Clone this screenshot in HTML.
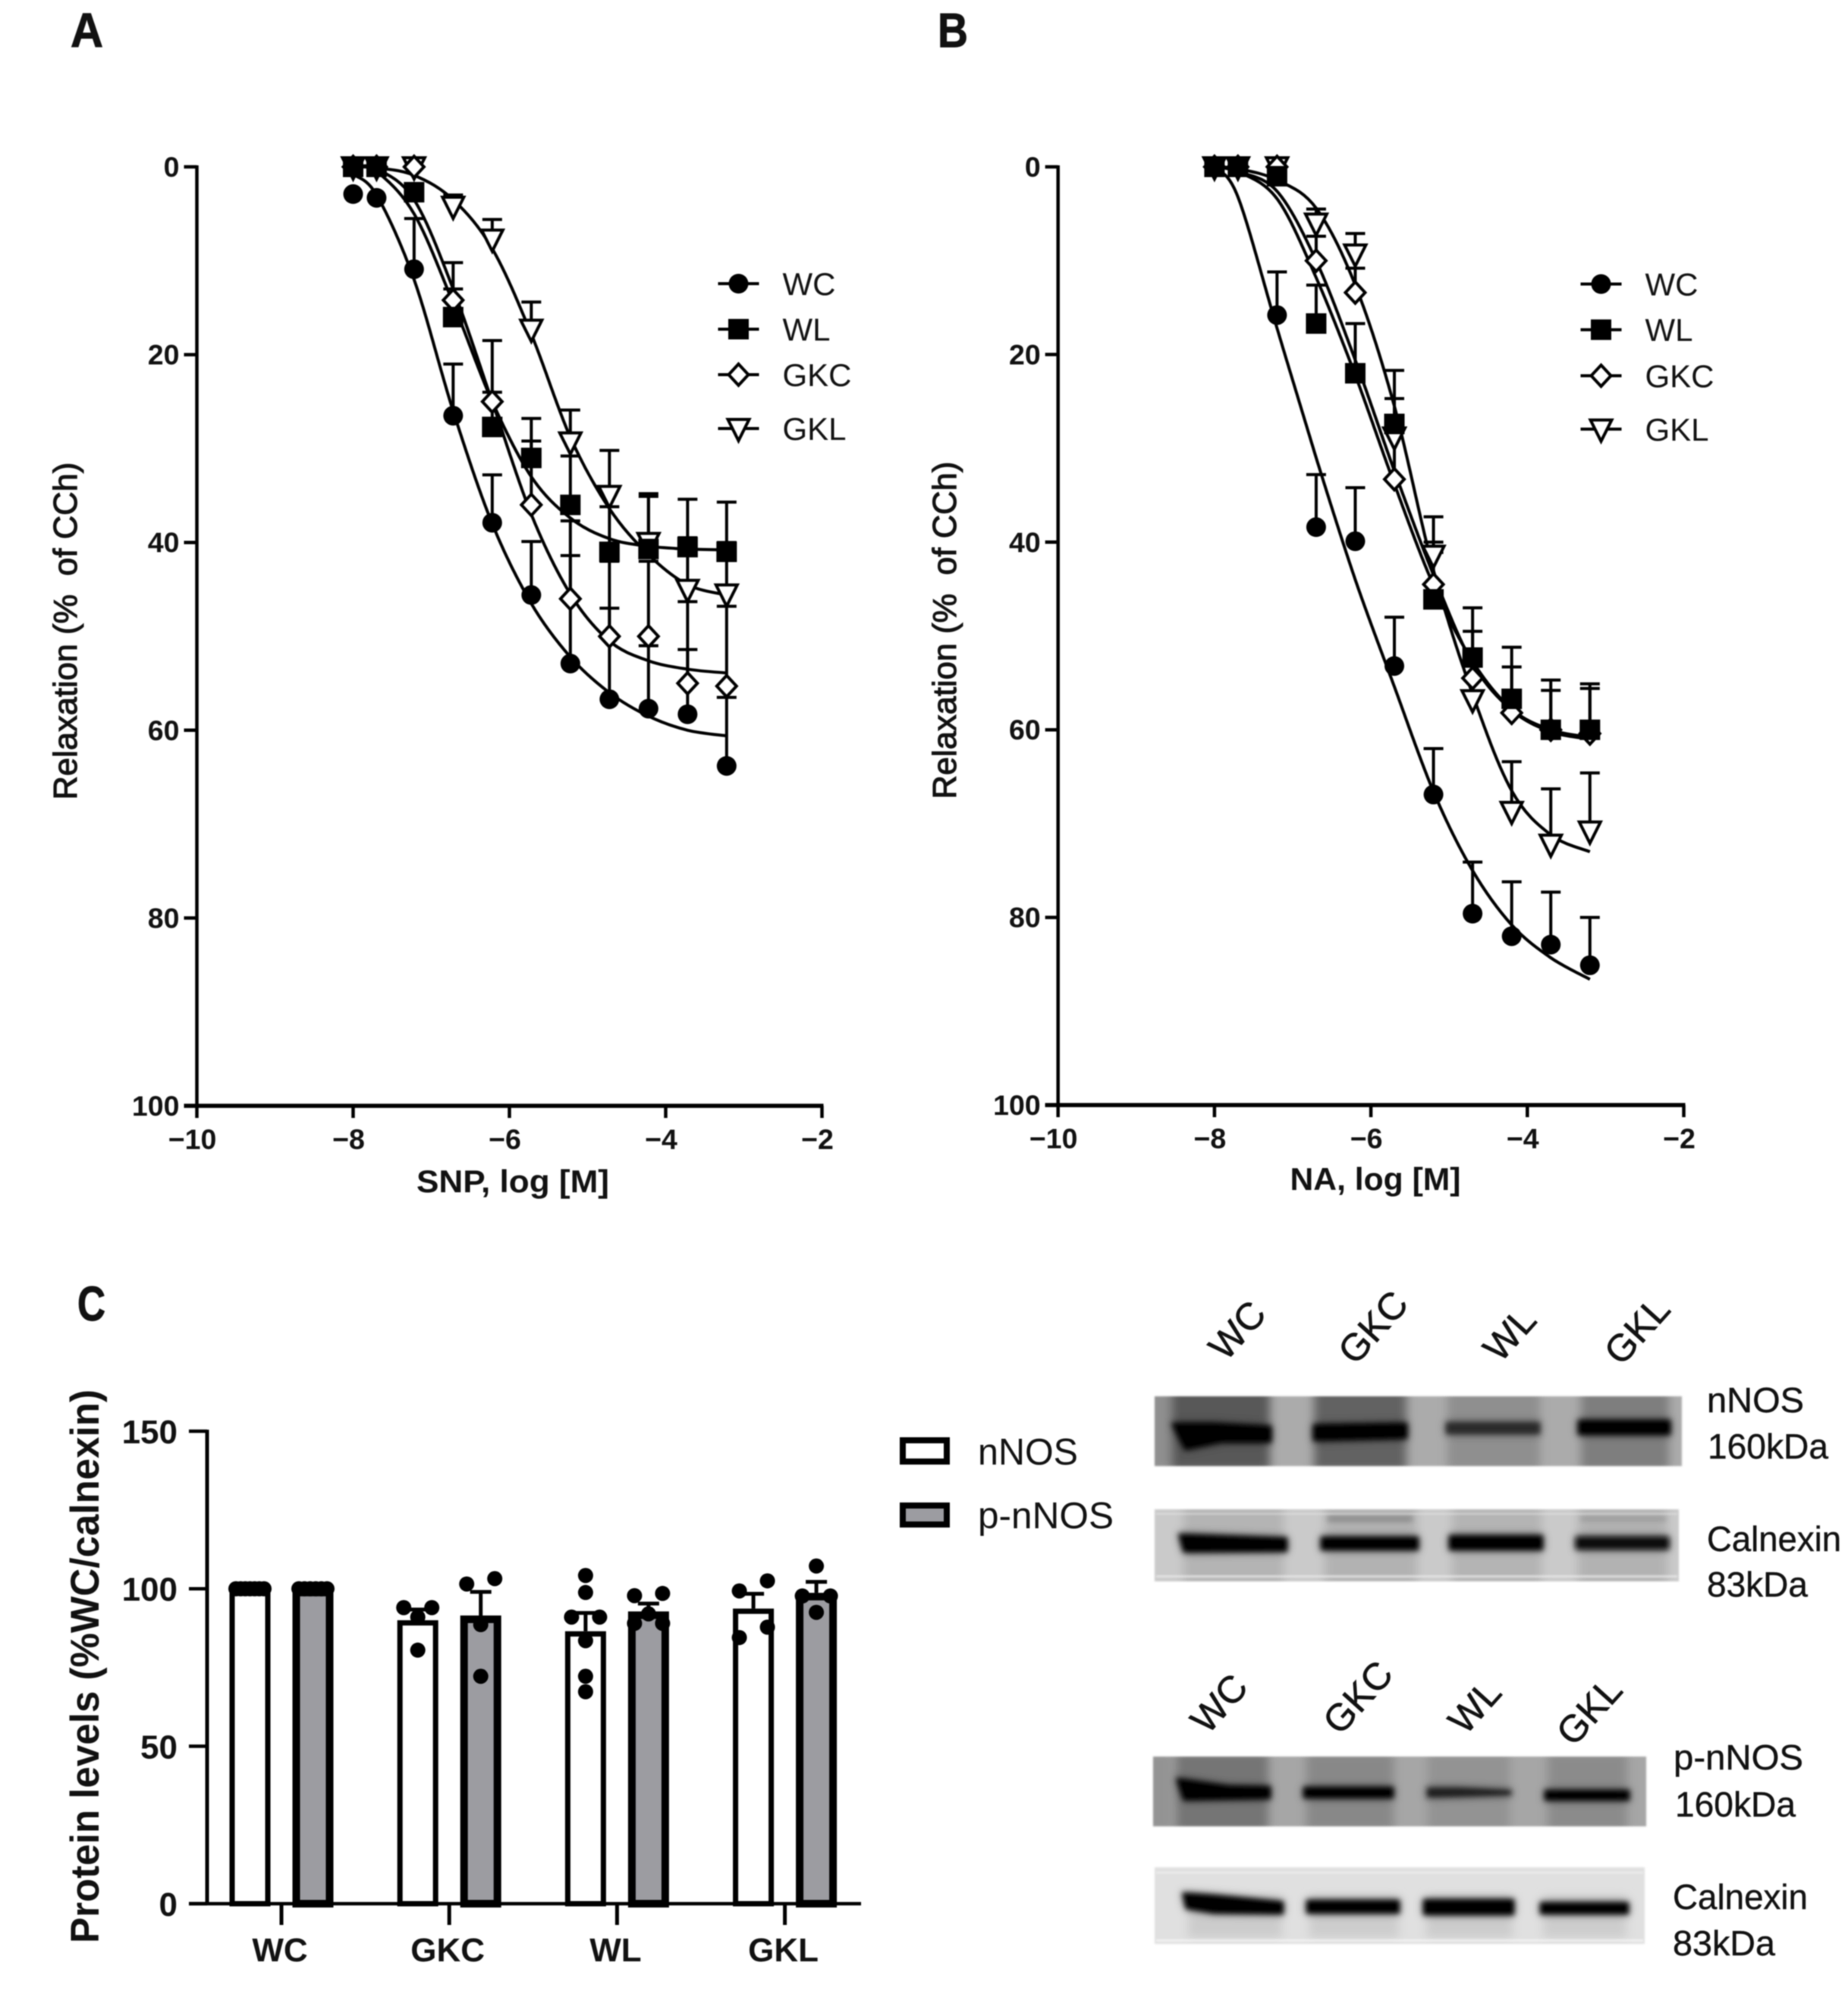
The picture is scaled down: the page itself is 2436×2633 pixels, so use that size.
<!DOCTYPE html>
<html lang="en">
<head>
<meta charset="utf-8">
<title>Relaxation curves and protein levels</title>
<style>
html,body{margin:0;padding:0;background:#fff;width:2436px;height:2633px;overflow:hidden}
svg{display:block;filter:blur(0.7px)}
text{font-family:"Liberation Sans",sans-serif;fill:#111}
.tick{font-weight:700;font-size:37.5px}
.axt{font-weight:700;font-size:42px}
.ylab{font-size:44px;stroke:#111;stroke-width:1.1px}
.leg{font-size:42px;fill:#111}
.pan{font-weight:700;font-size:64px;stroke:#111;stroke-width:1px}
.blt{font-size:46px;fill:#111;stroke:#111;stroke-width:.4px}
.blr{font-size:50px;fill:#111;stroke:#111;stroke-width:.6px}
</style>
</head>
<body>
<svg id="figure" xmlns="http://www.w3.org/2000/svg" width="2436" height="2633" viewBox="0 0 2436 2633">
<defs>
<filter id="b1" filterUnits="userSpaceOnUse" x="1400" y="1700" width="1000" height="900"><feGaussianBlur stdDeviation="1"/></filter>
<filter id="b3" filterUnits="userSpaceOnUse" x="1400" y="1700" width="1000" height="900"><feGaussianBlur stdDeviation="3.5"/></filter>
<filter id="b6" filterUnits="userSpaceOnUse" x="1400" y="1700" width="1000" height="900"><feGaussianBlur stdDeviation="6"/></filter>
<clipPath id="c1"><rect x="1522" y="1841" width="695" height="92"/></clipPath>
<clipPath id="c2"><rect x="1522" y="1990" width="691" height="95"/></clipPath>
<clipPath id="c3"><rect x="1520" y="2316" width="650" height="92"/></clipPath>
<clipPath id="c4"><rect x="1522" y="2462" width="646" height="101"/></clipPath>
<g id="bands1">
<polygon points="1544,1876 1600,1876 1676,1880 1676,1902 1610,1902 1562,1912" fill="#000"/>
<polygon points="1731,1878 1855,1876 1855,1897 1731,1900" fill="#000"/>
<rect x="1906" y="1875" width="124" height="16" fill="#2a2a2a"/>
<rect x="2080" y="1872" width="122" height="20" fill="#000"/>
</g>
<g id="bands2">
<polygon points="1553,2022 1697,2027 1697,2046 1560,2047" fill="#000"/>
<rect x="1741" y="2026" width="129" height="18" fill="#050505"/>
<rect x="1910" y="2024" width="124" height="20" fill="#000"/>
<rect x="2077" y="2026" width="123" height="17" fill="#0a0a0a"/>
</g>
<g id="bands3">
<polygon points="1550,2344 1620,2354 1675,2355 1675,2372 1560,2374" fill="#000"/>
<rect x="1718" y="2356" width="119" height="15" fill="#050505"/>
<polygon points="1881,2357 1925,2357 1992,2360 1992,2367 1925,2369 1881,2370" fill="#1a1a1a"/>
<rect x="2036" y="2360" width="112" height="14" fill="#050505"/>
</g>
<g id="bands4">
<polygon points="1558,2495 1600,2498 1692,2507 1692,2524 1600,2523 1563,2517" fill="#000"/>
<rect x="1722" y="2505" width="123" height="18" fill="#000"/>
<rect x="1876" y="2504" width="120" height="21" fill="#000"/>
<rect x="2030" y="2508" width="117" height="16" fill="#000"/>
</g>
</defs>

<text class="pan" x="93" y="62" textLength="43" lengthAdjust="spacingAndGlyphs">A</text>
<text class="pan" x="1236" y="62" textLength="40" lengthAdjust="spacingAndGlyphs">B</text>
<text class="pan" x="102" y="1741" textLength="37" lengthAdjust="spacingAndGlyphs">C</text>

<text class="ylab" x="101" y="832" text-anchor="middle" textLength="445" lengthAdjust="spacingAndGlyphs" transform="rotate(-90 101 832)">Relaxation (%&#160; of CCh)</text>
<text class="ylab" x="1260" y="831" text-anchor="middle" textLength="445" lengthAdjust="spacingAndGlyphs" transform="rotate(-90 1260 831)">Relaxation (%&#160; of CCh)</text>
<text class="axt" x="676" y="1572" text-anchor="middle" textLength="254" lengthAdjust="spacingAndGlyphs">SNP, log [M]</text>
<text class="axt" x="1813" y="1569" text-anchor="middle" textLength="225" lengthAdjust="spacingAndGlyphs">NA, log [M]</text>

<text x="130" y="2197" text-anchor="middle" font-size="53" font-weight="700" textLength="730" lengthAdjust="spacingAndGlyphs" transform="rotate(-90 130 2197)">Protein levels (%WC/calnexin)</text>

<g>
<rect x="1190" y="1899" width="58" height="28" fill="#fff" stroke="#000" stroke-width="8"/>
<text x="1289" y="1931" font-size="49" textLength="132" lengthAdjust="spacingAndGlyphs">nNOS</text>
<rect x="1190" y="1985" width="58" height="25" fill="#9c9ca1" stroke="#000" stroke-width="8"/>
<text x="1289" y="2015" font-size="49" textLength="179" lengthAdjust="spacingAndGlyphs">p-nNOS</text>
</g>

<!-- Western blots -->
<g filter="url(#b1)"><g clip-path="url(#c1)">
<rect x="1522" y="1841" width="695" height="92" fill="#ababab"/>
<g filter="url(#b6)">
<rect x="1500" y="1830" width="45" height="110" fill="#8f8f8f"/>
<rect x="1544" y="1830" width="130" height="110" fill="#585858"/>
<rect x="1732" y="1830" width="122" height="110" fill="#626262"/>
<rect x="1908" y="1830" width="122" height="110" fill="#8f8f8f"/>
<rect x="2084" y="1830" width="116" height="110" fill="#7e7e7e"/>
</g>
<g filter="url(#b6)" opacity=".55"><use href="#bands1"/></g>
<g filter="url(#b3)"><use href="#bands1"/></g>
</g></g>

<g filter="url(#b1)"><g clip-path="url(#c2)">
<rect x="1522" y="1990" width="691" height="95" fill="#cacaca"/>
<g filter="url(#b6)">
<rect x="1560" y="1985" width="132" height="105" fill="#b4b4b4"/>
<rect x="1746" y="1985" width="122" height="105" fill="#b2b2b2"/>
<rect x="1914" y="1985" width="118" height="105" fill="#b4b4b4"/>
<rect x="2080" y="1985" width="118" height="105" fill="#b2b2b2"/>
</g>
<g filter="url(#b3)">
<rect x="1750" y="1998" width="112" height="9" fill="#8e8e8e"/>
<rect x="2084" y="1999" width="112" height="7" fill="#9c9c9c"/>
</g>
<g filter="url(#b6)" opacity=".55"><use href="#bands2"/></g>
<g filter="url(#b3)"><use href="#bands2"/></g>
<rect x="1524" y="1995" width="687" height="2" fill="#e8e8e8" opacity=".6"/>
<rect x="1524" y="2077" width="687" height="3" fill="#ededed" opacity=".7"/>
</g></g>

<g filter="url(#b1)"><g clip-path="url(#c3)">
<rect x="1520" y="2316" width="650" height="92" fill="#a6a6a6"/>
<g filter="url(#b6)">
<rect x="1500" y="2310" width="45" height="105" fill="#939393"/>
<rect x="1550" y="2310" width="122" height="105" fill="#757575"/>
<rect x="1722" y="2310" width="115" height="105" fill="#888888"/>
<rect x="1882" y="2310" width="108" height="105" fill="#939393"/>
<rect x="2040" y="2310" width="105" height="105" fill="#8b8b8b"/>
</g>
<g filter="url(#b6)" opacity=".5"><use href="#bands3"/></g>
<g filter="url(#b3)"><use href="#bands3"/></g>
</g></g>

<g filter="url(#b1)"><g clip-path="url(#c4)">
<rect x="1522" y="2462" width="646" height="101" fill="#e0e0e0"/>
<g filter="url(#b6)">
<rect x="1566" y="2500" width="124" height="55" fill="#cccccc"/>
<rect x="1726" y="2500" width="118" height="55" fill="#cdcdcd"/>
<rect x="1880" y="2500" width="114" height="55" fill="#cccccc"/>
<rect x="2034" y="2500" width="110" height="55" fill="#cdcdcd"/>
</g>
<g filter="url(#b6)" opacity=".5"><use href="#bands4"/></g>
<g filter="url(#b3)"><use href="#bands4"/></g>
<rect x="1524" y="2468" width="642" height="2" fill="#f4f4f4" opacity=".7"/>
<rect x="1524" y="2557" width="642" height="3" fill="#f8f8f8" opacity=".7"/>
</g></g>

<g>
<text class="blr" x="1631" y="1771" text-anchor="middle" transform="rotate(-48 1631 1754)">WC</text>
<text class="blr" x="1810" y="1767" text-anchor="middle" transform="rotate(-48 1810 1750)">GKC</text>
<text class="blr" x="1990" y="1776" text-anchor="middle" transform="rotate(-48 1990 1759)">WL</text>
<text class="blr" x="2158" y="1771" text-anchor="middle" transform="rotate(-48 2158 1754)">GKL</text>
</g>
<g>
<text class="blr" x="1607" y="2263" text-anchor="middle" transform="rotate(-48 1607 2246)">WC</text>
<text class="blr" x="1790" y="2255" text-anchor="middle" transform="rotate(-48 1790 2238)">GKC</text>
<text class="blr" x="1944" y="2267" text-anchor="middle" transform="rotate(-48 1944 2250)">WL</text>
<text class="blr" x="2095" y="2273" text-anchor="middle" transform="rotate(-48 2095 2256)">GKL</text>
</g>

<text class="blt" x="2250" y="1862" textLength="128" lengthAdjust="spacingAndGlyphs">nNOS</text>
<text class="blt" x="2251" y="1923" textLength="159" lengthAdjust="spacingAndGlyphs">160kDa</text>
<text class="blt" x="2250" y="2045" textLength="177" lengthAdjust="spacingAndGlyphs">Calnexin</text>
<text class="blt" x="2250" y="2105" textLength="133" lengthAdjust="spacingAndGlyphs">83kDa</text>
<text class="blt" x="2206" y="2333" textLength="171" lengthAdjust="spacingAndGlyphs">p-nNOS</text>
<text class="blt" x="2208" y="2395" textLength="159" lengthAdjust="spacingAndGlyphs">160kDa</text>
<text class="blt" x="2205" y="2517" textLength="178" lengthAdjust="spacingAndGlyphs">Calnexin</text>
<text class="blt" x="2205" y="2578" textLength="135" lengthAdjust="spacingAndGlyphs">83kDa</text>

<g id="panel-a"></g>
<g id="panel-b"></g>
<g id="panel-c"></g>
</svg>

<script>
// ---- Shared axis ticks ----
const curveXTicks = [-10, -8, -6, -4, -2];
const curveYTicks = [0, 20, 40, 60, 80, 100];
const seriesNames = ['WC', 'WL', 'GKC', 'GKL'];

// ---- Panel A (SNP) ----
const dosesA = [-8, -7.7, -7.22, -6.72, -6.22, -5.72, -5.22, -4.72, -4.22, -3.72, -3.22];
const wcA = [2.9, 3.3, 10.9, 26.5, 37.9, 45.6, 52.9, 56.7, 57.7, 58.3, 63.8];
const wlA = [0, 0, 2.7, 16, 27.7, 31, 36, 41, 40.7, 40.5, 41];
const gkcA = [0, 0, 0, 14.2, 25, 36, 46, 50, 50, 55, 55.3];
const gklA = [0, 0, 0, 4.2, 7.7, 17.3, 29.3, 35, 40, 45, 45.5];
const wcErrA = [0, 0, 5.4, 5.5, 5.1, 5.7, 11.5, 9.7, 6.7, 6.9, 7.3];
const wlErrA = [0, 0, 0, 3, 3.7, 4.2, 5.2, 4.8, 5.6, 5.1, 5.3];
const gkcErrA = [0, 0, 0, 4, 6.5, 6.8, 8.3, 8, 8, 8.7, 8.5];
const gklErrA = [0, 0, 0, 1.2, 2.1, 2.9, 3.4, 4.8, 5.2, 5.5, 5.5];
const wcFitA = [0.8, 3, 12, 26, 38, 46.5, 52.2, 56, 58.5, 60, 60.6];
const wlFitA = [0, 0.5, 5, 14.5, 25, 33, 37.4, 39.6, 40.4, 40.7, 40.8];
const gkcFitA = [0, 0.2, 3.5, 13, 25, 37, 45.5, 50.5, 52.6, 53.5, 53.9];
const gklFitA = [0, 0.1, 0.9, 3.5, 8.7, 17.8, 28.8, 36.4, 41.3, 44.5, 45.6];

// ---- Panel B (NA) ----
const dosesB = [-8, -7.7, -7.2, -6.7, -6.2, -5.7, -5.2, -4.7, -4.2, -3.7, -3.2];
const wcB = [0, 0, 15.8, 38.4, 39.9, 53.2, 66.9, 79.6, 82, 82.9, 85.1];
const wlB = [0, 0, 1, 16.7, 22, 27.4, 46.1, 52.3, 56.7, 60, 60];
const gkcB = [0, 0, 0, 10, 13.4, 33.3, 44.5, 54.5, 58.2, 60, 60.4];
const gklB = [0, 0, 0, 6, 9.3, 28.8, 41.4, 56.8, 68.7, 72.2, 70.8];
const wcErrB = [0, 0, 4.6, 5.6, 5.7, 5.2, 4.9, 5.5, 5.8, 5.6, 5.1];
const wlErrB = [0, 0, 0, 4.1, 5.3, 5.7, 5, 5.3, 5.5, 5.3, 4.9];
const gkcErrB = [0, 0, 0, 2.6, 2.6, 6.8, 4.5, 5, 4.9, 4.2, 4.8];
const gklErrB = [0, 0, 0, 1.5, 2.2, 4.1, 4.1, 3.8, 5.3, 5.9, 6.2];
const wcFitB = [0, 3.2, 17.2, 31, 44, 55.4, 66.6, 75, 80.8, 84.3, 86.6];
const wlFitB = [0, 0.5, 3.4, 11.8, 22.2, 33.8, 44.6, 52.7, 57.8, 60, 60.8];
const gkcFitB = [0, 0.5, 2.6, 10, 20.6, 32.4, 43.5, 52.9, 57.9, 60.2, 61];
const gklFitB = [0, 0.2, 1.4, 4.4, 12.6, 25.5, 43, 56.2, 66.5, 71.2, 73];

// ---- Panel C (protein levels) ----
const proteinGroups = ['WC', 'GKC', 'WL', 'GKL'];
const proteinTicks = [0, 50, 100, 150];
const nnosMeans = [100, 90, 86.5, 93.7];
const nnosErrors = [0, 3.4, 5.8, 4.7];
const nnosPoints = [
  [100, 100, 100, 100, 100, 100, 100],
  [94, 94, 91, 80.5],
  [104.2, 98.8, 91, 91, 83.5, 72.2, 67.3],
  [102.5, 99.3, 87.8, 84.5]
];
const pnnosMeans = [100, 91.5, 92.8, 98.7];
const pnnosErrors = [0, 7.5, 2.5, 3.5];
const pnnosPoints = [
  [100, 100, 100, 100, 100, 100],
  [103.2, 101.5, 88.6, 72.2],
  [98.5, 97.8, 92, 89, 89],
  [107.2, 97.7, 97.7, 92.5]
];

const NS = 'http://www.w3.org/2000/svg';
function make(parent, tag, attrs, txt) {
  const el = document.createElementNS(NS, tag);
  for (const k in attrs) el.setAttribute(k, attrs[k]);
  if (txt !== undefined) el.textContent = txt;
  parent.appendChild(el);
  return el;
}
function tickText(v) {
  return v < 0 ? '\u2212' + Math.abs(v) : String(v);
}
function smoothPath(pts) {
  let d = 'M' + pts[0][0].toFixed(1) + ' ' + pts[0][1].toFixed(1);
  for (let i = 0; i < pts.length - 1; i++) {
    const p0 = pts[Math.max(0, i - 1)], p1 = pts[i], p2 = pts[i + 1], p3 = pts[Math.min(pts.length - 1, i + 2)];
    const c1x = p1[0] + (p2[0] - p0[0]) / 6, c1y = p1[1] + (p2[1] - p0[1]) / 6;
    const c2x = p2[0] - (p3[0] - p1[0]) / 6, c2y = p2[1] - (p3[1] - p1[1]) / 6;
    d += 'C' + c1x.toFixed(1) + ' ' + c1y.toFixed(1) + ' ' + c2x.toFixed(1) + ' ' + c2y.toFixed(1) + ' ' + p2[0].toFixed(1) + ' ' + p2[1].toFixed(1);
  }
  return d;
}
function drawMarker(parent, kind, cx, cy) {
  if (kind === 'WC') {
    return make(parent, 'circle', {cx: cx, cy: cy, r: 13, fill: '#000'});
  }
  if (kind === 'WL') {
    return make(parent, 'rect', {x: cx - 13.5, y: cy - 13.5, width: 27, height: 27, fill: '#000'});
  }
  if (kind === 'GKC') {
    const pts = [[cx, cy - 14], [cx + 13, cy], [cx, cy + 14], [cx - 13, cy]].map(p => p.join(',')).join(' ');
    return make(parent, 'polygon', {points: pts, fill: '#fff', stroke: '#000', 'stroke-width': 4});
  }
  const tri = [[cx - 14, cy - 12], [cx + 14, cy - 12], [cx, cy + 16]].map(p => p.join(',')).join(' ');
  return make(parent, 'polygon', {points: tri, fill: '#fff', stroke: '#000', 'stroke-width': 4});
}

function drawCurvePanel(root, o) {
  const xs = v => o.x0 + (v + 10) * o.xu;
  const ys = v => o.y0 + v * o.yu;
  const axisGroup = make(root, 'g', {stroke: '#000', 'stroke-width': 4.5, fill: 'none'});
  
  
  const yAxis = make(axisGroup, 'line', {x1: xs(-10), x2: xs(-10), y1: ys(0) - 2, y2: ys(100) + 2});
  
  
  const xAxis = make(axisGroup, 'line', {x1: xs(-10) - 17, x2: xs(-2) + 2, y1: ys(100), y2: ys(100), 'stroke-width': 5.5});
  
  
  curveYTicks.forEach(function (t) {
    const tk = make(axisGroup, 'line', {x1: xs(-10) - 17, x2: xs(-10), y1: ys(t), y2: ys(t)});
    
    
    const lb = make(root, 'text', {x: xs(-10) - 23, y: ys(t) + 13, 'text-anchor': 'end', class: 'tick'}, tickText(t));
    
    
  });
  curveXTicks.forEach(function (t) {
    const tk = make(axisGroup, 'line', {x1: xs(t), x2: xs(t), y1: ys(100), y2: ys(100) + 16});
    
    
    const lb = make(root, 'text', {x: xs(t) - 6, y: ys(100) + 57, 'text-anchor': 'middle', class: 'tick'}, tickText(t));
    
    
  });
  // error bars
  o.series.forEach(function (s) {
    s.values.forEach(function (v, i) {
      if (!s.errors[i]) return;
      const top = v - s.errors[i];
      const eb = make(root, 'path', {d: 'M' + xs(o.doses[i]) + ' ' + ys(v) + 'V' + ys(top) + 'M' + (xs(o.doses[i]) - 13) + ' ' + ys(top) + 'H' + (xs(o.doses[i]) + 13), stroke: '#000', 'stroke-width': 4, fill: 'none'});
      
      
    });
  });
  // fit lines
  o.series.forEach(function (s) {
    const pts = s.fit.map((v, i) => [xs(o.doses[i]), ys(v)]);
    const fit = make(root, 'path', {d: smoothPath(pts), stroke: '#000', 'stroke-width': 4, fill: 'none'});
    
    
  });
  // markers
  o.series.forEach(function (s) {
    s.values.forEach(function (v, i) {
      const m = drawMarker(root, s.name, xs(o.doses[i]), ys(v));
      
      
    });
  });
  // legend
  const lg = make(root, 'g', {});
  
  
  seriesNames.forEach(function (n, i) {
    const ly = o.legendY[i];
    const ln = make(lg, 'line', {x1: o.legendX - 27, x2: o.legendX + 27, y1: ly, y2: ly, stroke: '#000', 'stroke-width': 4});
    
    
    const mk = drawMarker(lg, n, o.legendX, ly);
    
    
    const tx = make(lg, 'text', {x: o.legendX + 58, y: ly + 15, class: 'leg'}, n);
    
    
  });
}

drawCurvePanel(document.getElementById('panel-a'), {
  id: 'panel-a', x0: 259.5, xu: 103, y0: 220, yu: 12.38, doses: dosesA,
  legendX: 973.5, legendY: [374, 434, 494, 565],
  series: [
    {name: 'GKL', values: gklA, errors: gklErrA, fit: gklFitA},
    {name: 'GKC', values: gkcA, errors: gkcErrA, fit: gkcFitA},
    {name: 'WL', values: wlA, errors: wlErrA, fit: wlFitA},
    {name: 'WC', values: wcA, errors: wcErrA, fit: wcFitA}
  ]
});
drawCurvePanel(document.getElementById('panel-b'), {
  id: 'panel-b', x0: 1394.7, xu: 103.1, y0: 220, yu: 12.37, doses: dosesB,
  legendX: 2110.5, legendY: [374.5, 434.7, 495.4, 565.8],
  series: [
    {name: 'GKL', values: gklB, errors: gklErrB, fit: gklFitB},
    {name: 'GKC', values: gkcB, errors: gkcErrB, fit: gkcFitB},
    {name: 'WL', values: wlB, errors: wlErrB, fit: wlFitB},
    {name: 'WC', values: wcB, errors: wcErrB, fit: wcFitB}
  ]
});

// Bee-swarm style horizontal offsets: close values sit side by side, symmetric about the bar centre
function swarm(values) {
  const sorted = values.slice().sort((a, b) => b - a);
  const bins = [];
  sorted.forEach(function (v) {
    const last = bins[bins.length - 1];
    if (last && last[0] - v <= 4.5) last.push(v); else bins.push([v]);
  });
  const out = [];
  bins.forEach(function (bin) {
    let row = bin.slice().sort((a, b) => a - b);
    if (row.length % 2 === 1 && row.length > 1) {
      const mean = row.reduce((a, b) => a + b, 0) / row.length;
      let far = 0;
      row.forEach(function (v, i) { if (Math.abs(v - mean) > Math.abs(row[far] - mean)) far = i; });
      const c = row.splice(far, 1)[0];
      row.splice(row.length / 2, 0, c);
    }
    const gap = row.length > 1 ? 37 / (row.length - 1) : 0;
    row.forEach(function (v, i) { out.push({v: v, dx: (i - (row.length - 1) / 2) * gap}); });
  });
  return out;
}

(function drawProtein() {
  const root = document.getElementById('panel-c');
  const yC = v => 2510 - v * 4.153;
  const gx = i => 371 + 221.2 * i;
  const defs = [
    {name: 'nnos', means: nnosMeans, errs: nnosErrors, pts: nnosPoints, off: -41.5, fill: '#fff', sw: 7},
    {name: 'p-nnos', means: pnnosMeans, errs: pnnosErrors, pts: pnnosPoints, off: 41.5, fill: '#9c9ca1', sw: 10}
  ];
  defs.forEach(function (d) {
    d.means.forEach(function (m, i) {
      const cx = gx(i) + d.off;
      const bar = make(root, 'rect', {x: cx - 27 + d.sw / 2, y: yC(m) + d.sw / 2, width: 54 - d.sw, height: yC(0) - yC(m) - d.sw / 2, fill: d.fill, stroke: '#000', 'stroke-width': d.sw});
      
      
      if (d.errs[i]) {
        const e = make(root, 'path', {d: 'M' + cx + ' ' + yC(m) + 'V' + yC(m + d.errs[i]) + 'M' + (cx - 14) + ' ' + yC(m + d.errs[i]) + 'H' + (cx + 14), stroke: '#000', 'stroke-width': 5, fill: 'none'});
        
        
      }
    });
  });
  defs.forEach(function (d) {
    d.pts.forEach(function (list, i) {
      swarm(list).forEach(function (p) {
        const dot = make(root, 'circle', {cx: gx(i) + d.off + p.dx, cy: yC(p.v), r: 10, fill: '#000'});
        
        
      });
    });
  });
  const yAxis = make(root, 'line', {x1: 273, x2: 273, y1: yC(150) - 2, y2: yC(0) + 2, stroke: '#000', 'stroke-width': 5});
  
  
  const xAxis = make(root, 'line', {x1: 249, x2: 1135, y1: yC(0), y2: yC(0), stroke: '#000', 'stroke-width': 4.5});
  
  
  proteinTicks.forEach(function (t) {
    const tk = make(root, 'line', {x1: 249, x2: 273, y1: yC(t), y2: yC(t), stroke: '#000', 'stroke-width': 4.5});
    
    
    const lb = make(root, 'text', {x: 234, y: yC(t) + 16, 'text-anchor': 'end', 'font-size': 44, 'font-weight': 700}, String(t));
    
    
  });
  proteinGroups.forEach(function (g, i) {
    const tk = make(root, 'line', {x1: gx(i), x2: gx(i), y1: yC(0), y2: yC(0) + 28, stroke: '#000', 'stroke-width': 5});
    
    
    const lb = make(root, 'text', {x: gx(i) - 2, y: 2586, 'text-anchor': 'middle', 'font-size': 44, 'font-weight': 700}, g);
    
    
  });
})();
</script>
</body>
</html>
